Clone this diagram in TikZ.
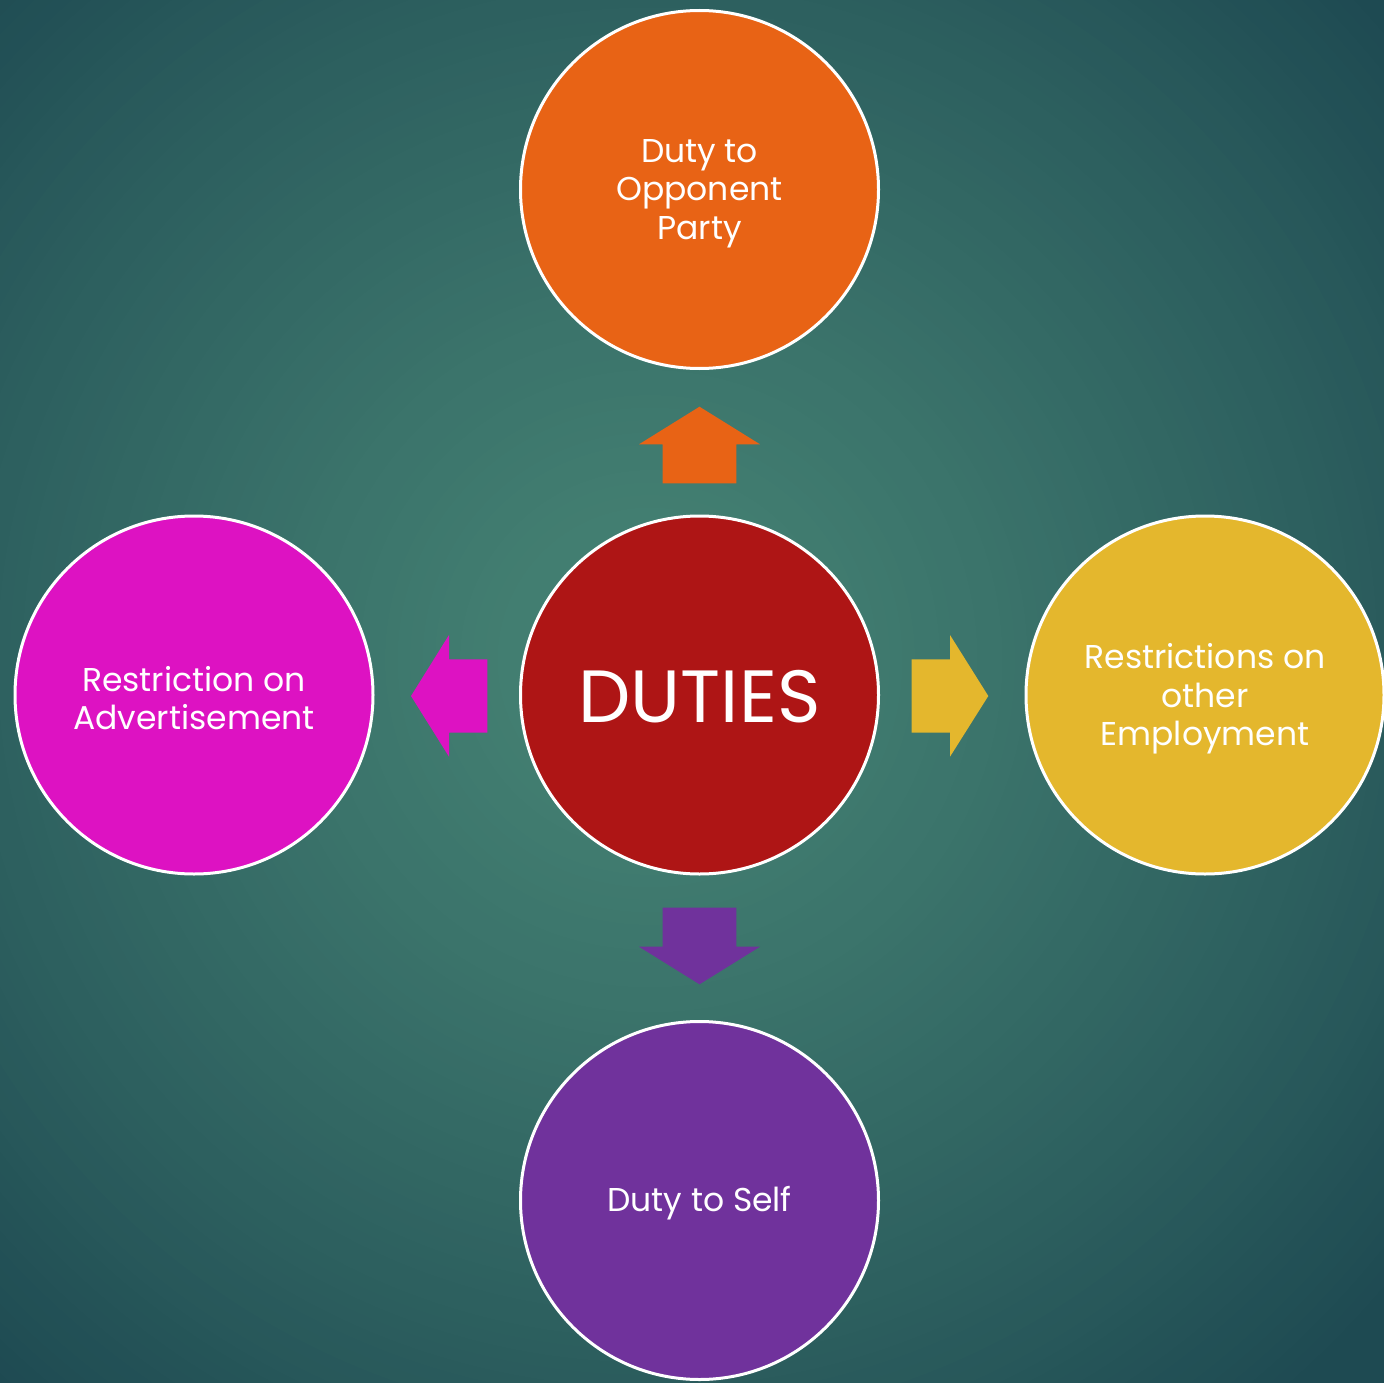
\documentclass[tikz,border=0pt]{standalone}
\usepackage{fontspec}
\setmainfont{Poppins}
\definecolor{bgin}{HTML}{427E71}
\definecolor{bgout}{HTML}{1E4A52}
\definecolor{corange}{HTML}{E86315}
\definecolor{cred}{HTML}{AE1515}
\definecolor{cmag}{HTML}{DD12C2}
\definecolor{cyel}{HTML}{E4B72D}
\definecolor{cpur}{HTML}{70329C}
\tikzset{
  bubble/.style={circle, draw=white, line width=3pt, minimum size=358pt, inner sep=0pt},
  labeltext/.style={text=white, align=center, font=\fontsize{33}{38.5}\selectfont}
}
\begin{document}
\begin{tikzpicture}[x=1pt,y=-1pt]
\useasboundingbox (0,0) rectangle (1384,1383);
\begin{scope}
\clip (0,0) rectangle (1384,1383);
\fill[bgout] (0,0) rectangle (1384,1383);
\foreach \i in {0,...,79}{
  \pgfmathsetmacro\rr{990-\i*12.5}
  \pgfmathsetmacro\p{\rr<=150 ? 100 : (\rr<=350 ? 100-(\rr-150)*0.1 : (\rr<=690 ? 80-(\rr-350)*0.1176 : max(0,40-(\rr-690)*0.138)))}
  \fill[bgin!\p!bgout] (650,660) circle[radius=\rr];
}
\end{scope}
\node[bubble, fill=corange] (top) at (699.5,189.5) {};
\node[bubble, fill=cred] (center) at (699.5,695) {};
\node[bubble, fill=cmag] (left) at (194,695) {};
\node[bubble, fill=cyel] (right) at (1205,695) {};
\node[bubble, fill=cpur] (bottom) at (699.5,1200.5) {};
\node[labeltext] (toptext) at ([yshift=-4pt]top.center) {Duty to\\Opponent\\Party};
\node[labeltext, font=\fontsize{74}{80}\selectfont] (centertext) at ([yshift=-2pt]center.center) {DUTIES};
\node[labeltext] (lefttext) at ([yshift=-3pt]left.center) {Restriction on\\Advertisement};
\node[labeltext] (righttext) at ([yshift=-4pt]right.center) {Restrictions on\\other\\Employment};
\node[labeltext] (bottomtext) at ([yshift=-3pt]bottom.center) {Duty to Self};
% block arrows
\fill[corange] (699.5,406.7) -- (760,444.3) -- (736.3,444.3) -- (736.3,483.3) -- (662.7,483.3) -- (662.7,444.3) -- (639,444.3) -- cycle;
\fill[cmag] (411,696) -- (449,635) -- (449,659.3) -- (487.3,659.3) -- (487.3,732.7) -- (449,732.7) -- (449,756.7) -- cycle;
\fill[cyel] (988.3,696) -- (950,635) -- (950,659.3) -- (911.7,659.3) -- (911.7,732.7) -- (950,732.7) -- (950,756.7) -- cycle;
\fill[cpur] (699.5,984.3) -- (760,946.7) -- (736.3,946.7) -- (736.3,907.7) -- (662.7,907.7) -- (662.7,946.7) -- (639,946.7) -- cycle;
\end{tikzpicture}
\end{document}
